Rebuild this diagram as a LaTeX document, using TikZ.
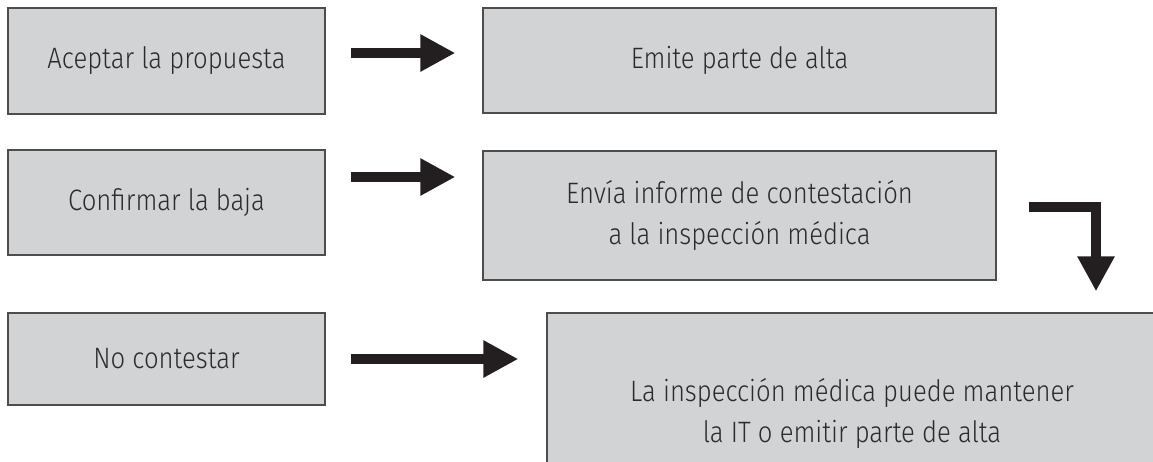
\documentclass[tikz,border=0pt]{standalone}
\usepackage{fontspec}
\setmainfont{Fira Sans}[UprightFont={* Light}, FakeStretch=0.87]
\usetikzlibrary{arrows.meta}
\definecolor{boxgray}{HTML}{D1D3D4}
\definecolor{edgegray}{HTML}{4D4D4D}
\definecolor{arrowblack}{HTML}{231F20}
\definecolor{textgray}{HTML}{2B2B2B}

\begin{document}
\begin{tikzpicture}[x=1pt, y=-1pt,
    box/.style={draw=edgegray, line width=1.3pt, fill=boxgray, text=textgray, align=center, inner sep=0pt, font=\fontsize{29.5}{41}\selectfont},
    bigarrow/.style={arrowblack, line width=10pt, -{Triangle[width=35pt,length=35pt]}}]
    \useasboundingbox (0,0) rectangle (1153,461);
    \clip (0,0) rectangle (1153,461);

    \node[box, minimum width=317pt, minimum height=106pt] (acept) at (166.5,61) {Aceptar la propuesta};
    \node[box, minimum width=317pt, minimum height=105pt] (confirm) at (166.5,202.5) {Confirmar la baja};
    \node[box, minimum width=317pt, minimum height=92pt] (nocont) at (166.5,359) {No contestar};

    \node[box, minimum width=513pt, minimum height=105pt] (alta) at (739.5,60.5) {Emite parte de alta};
    \node[box, minimum width=513pt, minimum height=129pt] (informe) at (739.5,215.5) {Envía informe de contestación\\a la inspección médica};
    \node[box, minimum width=610pt, minimum height=200pt] (inspec) at (852,413) {La inspección médica puede mantener\\la IT o emitir parte de alta};

    \draw[bigarrow] ([xshift=25pt,yshift=8pt]acept.east) -- ([xshift=-27pt,yshift=7.5pt]alta.west);
    \draw[bigarrow] ([xshift=25pt,yshift=25.5pt]confirm.east) -- ([xshift=-27pt,yshift=38.5pt]informe.west);
    \draw[bigarrow] ([xshift=25pt]nocont.east) -- ([xshift=-28pt,yshift=54pt]inspec.west);
    \draw[bigarrow] ([xshift=32pt,yshift=8.5pt]informe.east) -| ([xshift=244pt,yshift=21pt]inspec.north);
\end{tikzpicture}
\end{document}
